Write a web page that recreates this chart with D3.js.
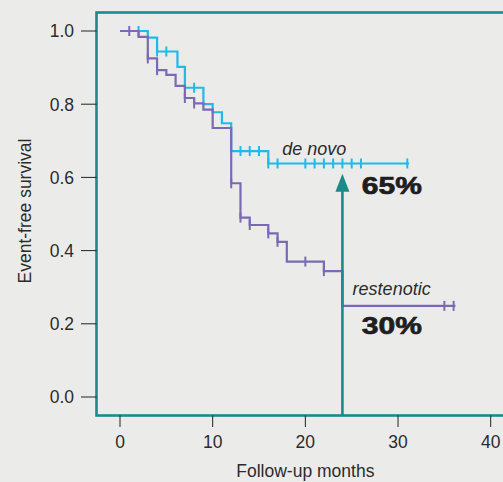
<!doctype html>
<html lang="en">
<head>
  <style>
    body { margin: 0; background: #ebecea; }
    text { font-family: "Liberation Sans", Arial, sans-serif; fill: #2b2b2b; }
    .tick-label { font-size: 17.5px; }
    .axis-title { font-size: 17.5px; }
    .curve { fill: none; stroke-width: 2.2px; }
    .big { font-size: 24px; font-weight: bold; fill: #1e1e1e; stroke: #1e1e1e; stroke-width: 0.7px; }
  </style>
  <script src="https://d3js.org/d3.v7.min.js"></script>
</head>
<body>
  <script>
    // Kaplan-Meier steps: time (months) where the curve drops, survival after the drop
    const restenoticTimes = [0, 2, 3, 4, 5, 6, 7, 8, 9, 10, 12, 13, 14, 16, 17, 18, 22, 24];
    const restenoticSurv  = [1.0, 0.984, 0.925, 0.893, 0.88, 0.85, 0.817, 0.802, 0.785, 0.735, 0.584, 0.49, 0.47, 0.447, 0.424, 0.37, 0.344, 0.249];
    const restenoticEnd = 36.2;
    const restenoticCensored = [1, 3, 4, 7, 8, 12, 13, 14, 16, 17, 20, 22, 35, 36];

    const deNovoTimes = [0, 3, 4, 6.2, 7, 9, 10, 11, 12, 16];
    const deNovoSurv  = [1.0, 0.982, 0.944, 0.902, 0.845, 0.80, 0.778, 0.748, 0.672, 0.638];
    const deNovoEnd = 31.2;
    const deNovoCensored = [2, 4, 5, 8, 13, 14, 15, 16, 17, 20, 21, 22, 23, 24, 25, 26, 31];

    const xTicks = [0, 10, 20, 30, 40];
    const yTicks = [0, 0.2, 0.4, 0.6, 0.8, 1.0];

    const arrowTime = 24;
    const arrowTip = 0.61;

    const W = 503, H = 482;
    const purple = "#7b69b4", cyan = "#1fb9ea", teal = "#1a8a8b";

    const svg = d3.select("body").append("svg")
      .attr("width", W).attr("height", H);

    const x = d3.scaleLinear().domain([0, 40]).range([120, 490.7]);
    const y = d3.scaleLinear().domain([0, 1]).range([397, 31]);

    const frameLeft = 96.5, frameTop = 12.5, frameBottom = 415.5;

    // plot frame
    svg.append("rect")
      .attr("x", frameLeft).attr("y", frameTop)
      .attr("width", W + 20 - frameLeft).attr("height", frameBottom - frameTop)
      .attr("fill", "#ebecea")
      .attr("stroke", teal).attr("stroke-width", 2.6);

    // y axis ticks
    yTicks.forEach(v => {
      svg.append("line")
        .attr("x1", 81).attr("x2", frameLeft)
        .attr("y1", y(v)).attr("y2", y(v))
        .attr("stroke", "#222").attr("stroke-width", 1);
      svg.append("text")
        .attr("class", "tick-label")
        .attr("x", 74).attr("y", y(v))
        .attr("dy", "0.36em")
        .attr("text-anchor", "end")
        .text(d3.format(".1f")(v));
    });

    // x axis ticks
    xTicks.forEach(v => {
      svg.append("line")
        .attr("x1", x(v)).attr("x2", x(v))
        .attr("y1", frameBottom).attr("y2", 427)
        .attr("stroke", "#222").attr("stroke-width", 1);
      svg.append("text")
        .attr("class", "tick-label")
        .attr("x", x(v)).attr("y", 448)
        .attr("text-anchor", "middle")
        .text(v);
    });

    svg.append("text")
      .attr("class", "axis-title")
      .attr("x", x(20)).attr("y", 477)
      .attr("text-anchor", "middle")
      .text("Follow-up months");

    svg.append("text")
      .attr("class", "axis-title")
      .attr("transform", "translate(31,211) rotate(-90)")
      .attr("text-anchor", "middle")
      .text("Event-free survival");

    function stepPoints(times, surv, end) {
      const pts = times.map((t, i) => [t, surv[i]]);
      pts.push([end, surv[surv.length - 1]]);
      return pts;
    }
    function survAt(times, surv, t) {
      let s = surv[0];
      times.forEach((tt, i) => { if (tt <= t) s = surv[i]; });
      return s;
    }

    const line = d3.line()
      .x(d => x(d[0]))
      .y(d => y(d[1]))
      .curve(d3.curveStepAfter);

    function drawCurve(times, surv, end, censored, color) {
      svg.append("path")
        .datum(stepPoints(times, surv, end))
        .attr("class", "curve")
        .attr("stroke", color)
        .attr("d", line);
      svg.selectAll(null)
        .data(censored)
        .enter().append("line")
        .attr("x1", d => x(d)).attr("x2", d => x(d))
        .attr("y1", d => y(survAt(times, surv, d)) - 5)
        .attr("y2", d => y(survAt(times, surv, d)) + 5)
        .attr("stroke", color).attr("stroke-width", 2);
    }

    drawCurve(deNovoTimes, deNovoSurv, deNovoEnd, deNovoCensored, cyan);
    drawCurve(restenoticTimes, restenoticSurv, restenoticEnd, restenoticCensored, purple);

    // arrow
    svg.append("line")
      .attr("x1", x(arrowTime)).attr("x2", x(arrowTime))
      .attr("y1", frameBottom).attr("y2", y(arrowTip) + 16)
      .attr("stroke", teal).attr("stroke-width", 2.6);
    svg.append("path")
      .attr("d", `M${x(arrowTime)},${y(arrowTip)} L${x(arrowTime) - 7},${y(arrowTip) + 18} L${x(arrowTime) + 7},${y(arrowTip) + 18} Z`)
      .attr("fill", teal);

    // labels
    svg.append("text")
      .attr("x", x(17.5)).attr("y", y(0.661))
      .style("font-size", "18px").style("font-style", "italic")
      .text("de novo");
    svg.append("text")
      .attr("class", "big")
      .attr("x", x(26.1)).attr("y", y(0.555))
      .attr("textLength", 60).attr("lengthAdjust", "spacingAndGlyphs")
      .text("65%");
    svg.append("text")
      .attr("x", x(25.1)).attr("y", y(0.279))
      .style("font-size", "18px").style("font-style", "italic")
      .text("restenotic");
    svg.append("text")
      .attr("class", "big")
      .attr("x", x(26.1)).attr("y", y(0.172))
      .attr("textLength", 60).attr("lengthAdjust", "spacingAndGlyphs")
      .text("30%");
  </script>
</body>
</html>
